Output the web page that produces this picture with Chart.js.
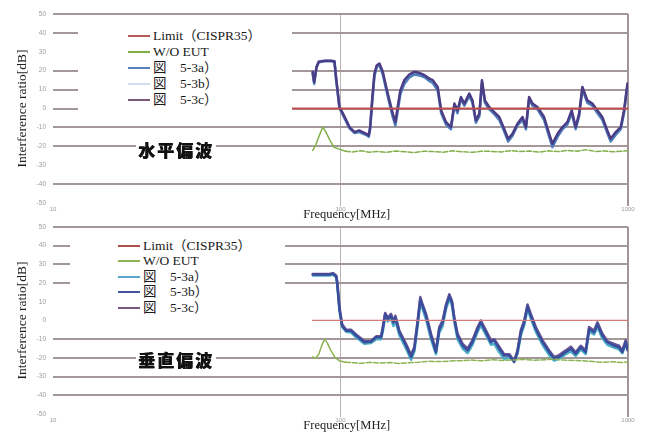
<!DOCTYPE html>
<html>
<head>
<meta charset="utf-8">
<script src="https://cdn.jsdelivr.net/npm/chart.js@4/dist/chart.umd.min.js"></script>
<style>
  html, body { margin: 0; padding: 0; background: #fff; }
  #wrap { position: relative; width: 646px; height: 432px; overflow: hidden; }
  canvas { position: absolute; left: 0; }
  #chartH { top: 0; }
  #chartV { top: 216px; }
  .legend { position: absolute; background: #fff; font-family: "Liberation Serif", "Noto Sans CJK JP", serif; font-size: 13.5px; color: #1a1a1a; }
  .legend .row { position: absolute; height: 16px; line-height: 16px; white-space: nowrap; }
  .legend .sw { position: absolute; top: 7px; width: 22px; height: 2px; }
  .pol { position: absolute; background: #fff; font-family: "Noto Sans CJK JP", sans-serif; font-weight: 900; font-size: 17px; line-height: 20px; letter-spacing: 2px; padding: 0 2px; color: #111; text-shadow: 0.6px 0 0 #111; }
</style>
</head>
<body>
<div id="wrap">
  <canvas id="chartH" width="646" height="222"></canvas>
  <canvas id="chartV" width="646" height="216"></canvas>
  <div class="legend" id="legH" style="left:78px;top:20px;width:214px;height:100px;"></div>
  <div class="legend" id="legV" style="left:70px;top:232px;width:215px;height:86px;"></div>
  <div class="pol" style="left:136px;top:140px;">水平偏波</div>
  <div class="pol" style="left:136px;top:350px;">垂直偏波</div>
</div>
<script>
// Axis ticks
const xTicks = [10, 100, 1000];
const yTicks = [50, 40, 30, 20, 10, 0, -10, -20, -30, -40, -50];

// Series names
const seriesNames = ['Limit（CISPR35）', 'W/O EUT', '図　5-3a）', '図　5-3b）', '図　5-3c）'];

// ---- Horizontal polarization (upper chart) ----
const hLimitFreq = [66, 1000];
const hLimit = [0, 0];

const hGreenFreq = [80, 82, 84, 86.8, 89, 92, 95, 99, 104, 110,
  118, 126, 135, 145, 156, 168, 180, 195, 210, 228,
  246, 266, 288, 310, 335, 362, 390, 420, 455, 490,
  530, 570, 615, 665, 715, 770, 830, 895, 960, 1000];
const hGreen = [-22.2, -19.5, -15, -9.8, -12.5, -17, -20.5, -21.5, -22.6, -23,
  -22.4, -23.1, -22.7, -23.2, -22.5, -22.9, -23.3, -22.6, -22.8, -23.1,
  -22.4, -22.9, -23.2, -22.6, -22.7, -23, -22.3, -22.8, -22.5, -23.1,
  -22.4, -22.8, -22.2, -22.6, -21.8, -22.7, -22.5, -22.9, -22.6, -22.3];

const hFreq = [80, 81, 82.5, 84, 88, 93, 95.3, 96.6, 99.2, 102,
  107.5, 112, 116, 123, 125.4, 126.8, 128.8, 131.2, 133.7, 136.6,
  140.3, 144.2, 148, 152, 155.2, 158.1, 161.5, 166.7, 173.8, 180.7,
  188, 196, 203.7, 209.4, 217.8, 224, 232.8, 242.2, 248.9, 255.3,
  262.4, 269.6, 280.5, 287.7, 295.8, 304.1, 310.5, 317.9, 328.9, 342.7,
  356.5, 370.8, 382.9, 396.3, 412.6, 429.5, 441.6, 453, 465.4, 484.2,
  510.5, 532, 545.8, 568.9, 591.6, 615.2, 637, 657.7, 676.1, 694,
  722.1, 751.6, 782.9, 814, 847.3, 870.4, 906.3, 943.6, 968.6, 995.4];
const hA = [18.5, 13, 21.5, 24.5, 25, 25, 24.5, 15, 0, -3.5,
  -10.5, -13, -12.5, -14, -15, -11, 2.5, 17, 22, 23,
  18, 10, 2.5, -4.5, -9, -1.5, 7.5, 13, 16.5, 18,
  17.5, 16.5, 14.5, 13.5, 9.5, -2.5, -8.5, -11, 1.5, -2.5,
  5, 1.5, 6.5, 3, -7.5, -4, 13.5, 3, -0.5, -3,
  -6, -12, -17.5, -14.5, -9, -6, -11, 5, 1.5, -0.5,
  -6, -15, -20.5, -15, -11, -8.5, -2.5, -11, -4, 10,
  3, 1.5, -2.5, -6, -13, -17.5, -14, -11, -2.5, 12];
const hB = [19, 13.5, 22, 25, 25.5, 25.5, 25, 15.5, 0.5, -3,
  -10, -12.5, -12, -13.5, -14.5, -10, 3.5, 18, 22.5, 23.5,
  19, 11, 3.5, -3.5, -8, 0, 9, 14.5, 17.5, 19,
  18.5, 17, 15, 14.5, 10.5, -1.5, -7.5, -10.5, 2, -1.5,
  5.5, 2, 7.5, 3.5, -7, -3, 14.5, 3.5, 0, -2.5,
  -5, -11.5, -16.5, -14, -8.5, -5, -10.5, 5.5, 2, 0,
  -5, -14, -19.5, -14, -10.5, -7.5, -1.5, -10.5, -3, 11,
  3.5, 2, -1.5, -5, -12, -16.5, -13, -10.5, -1.5, 12.5];
const hC = [19.4, 14, 22, 24.7, 25.2, 25.2, 25, 16, 0.8, -2.7,
  -9.8, -12.5, -11.6, -13.4, -14.2, -9.8, 4.3, 18.5, 22.9, 23.8,
  19.4, 11.4, 4.3, -2.7, -7.2, 0.8, 9.6, 15, 18.1, 19.4,
  18.8, 17.6, 15.8, 15, 11.4, -1, -7.2, -9.8, 2.6, -1,
  6.1, 2.6, 7.9, 4.3, -6.3, -2.7, 15, 4.3, 0.8, -1.9,
  -4.5, -10.7, -16, -13.4, -8.1, -4.5, -9.8, 6.1, 2.6, 0.8,
  -4.5, -13.4, -18.7, -13.4, -9.8, -7.2, -1, -9.8, -2.7, 11.4,
  4.3, 2.6, -1, -4.5, -11.6, -16, -12.5, -9.8, -1, 13.2];

// ---- Vertical polarization (lower chart) ----
const vLimitFreq = [80, 1000];
const vLimit = [0, 0];

const vGreenFreq = [80, 82, 84, 86, 88, 90, 92.5, 96, 99, 104,
  110, 118, 127, 137, 148, 160, 173, 187, 203, 220,
  240, 262, 285, 310, 338, 368, 400, 435, 472, 512,
  555, 600, 650, 700, 755, 815, 880, 950, 1000];
const vGreen = [-19.5, -20.2, -18, -13.5, -10, -12, -16, -20, -21.5, -22.3,
  -22.6, -22.9, -22.4, -22.8, -22.5, -23, -22.6, -22.3, -21.8, -22,
  -21.7, -21.5, -21.2, -21.6, -21, -21.4, -21.1, -20.8, -21.3, -21,
  -20.7, -21.2, -21.4, -21.6, -22, -22.4, -22.1, -22.5, -22.2];

const vFreq = [80.1, 91.6, 94.1, 96.6, 97.4, 99.2, 101.3, 104.6, 108.9, 113.3,
  121.1, 127.8, 133, 138.4, 140.3, 143, 146, 149.9, 152.8, 155.2,
  160.3, 169, 176, 180.7, 185.5, 189.5, 193.1, 198.4, 206.4, 214.8,
  220.6, 226.6, 232.8, 239, 244.2, 248.9, 255.3, 265.9, 276.7, 287.7,
  299.9, 307.9, 316.2, 324.8, 333.6, 342.7, 356.5, 370.8, 386.3, 401.9,
  412.6, 424.1, 435.5, 447.3, 459.2, 477.9, 504.1, 532, 553.4, 576,
  607.6, 632.3, 657.7, 684.8, 712.8, 732.1, 762, 782.9, 814, 847.3,
  894.2, 930.8, 955.8, 981.5, 995.4];
const vA = [24, 24, 24.5, 23, 19, 5, -3.5, -6, -6.5, -9,
  -12.5, -12, -10, -10, -6, 2, -0.5, 1, -3, 0,
  -8, -15, -21, -16.5, -3, 9.5, 6, 0.5, -10, -18,
  -6.5, -3, 6, 11.5, 8, -1, -10, -15, -17.5, -13,
  -6, -2.5, -6, -9.5, -13, -12.5, -17, -20.5, -20, -21,
  -18, -8, -2.5, 6, 1, -6, -13, -18.5, -21.5, -20.5,
  -18, -16.5, -19, -15.5, -18, -6, -7.5, -3.5, -9.5, -13,
  -14.5, -15.5, -17.5, -13, -14];
const vB = [24.5, 24.5, 25, 23.5, 20.1, 6, -2.8, -5.5, -5.5, -8.1,
  -11.6, -11.3, -9, -9, -4.6, 3.3, 0.7, 2.5, -1.1, 1.6,
  -6.3, -13.4, -19.5, -15.1, -1.1, 11.3, 7.7, 2.5, -8.1, -16.9,
  -4.6, -1.1, 7.7, 13, 9.5, 0.7, -8.1, -13.4, -16, -11.6,
  -4.6, -1.1, -4.6, -8.1, -11.6, -10.7, -15.1, -18.7, -18.7, -22.2,
  -16.9, -6.3, -1.1, 7.7, 2.5, -4.6, -11.6, -16.9, -20.4, -19.5,
  -16.9, -15.1, -17.8, -14.3, -16.9, -4.6, -6.3, -2, -8.1, -11.6,
  -13.4, -14.3, -16.9, -11.6, -15.1];
const vC = [24.8, 24.8, 25.3, 24, 21, 7, -2, -5, -5, -7.5,
  -11, -11, -8.5, -8.5, -3.5, 4, 1.5, 3.5, -0.5, 2.5,
  -5.5, -12.5, -18.5, -14, 0, 12.5, 8.5, 3.5, -7, -16,
  -3.5, 0, 8.5, 14, 10.5, 1.5, -7, -12.5, -15, -10.5,
  -3.5, 0, -3.5, -7, -10.5, -10, -14, -18, -18, -21.5,
  -16, -5, 0, 8.5, 3.5, -3.5, -10.5, -16, -19.5, -18.5,
  -16, -14, -17, -13.5, -16, -3.5, -5.5, -1, -7, -11,
  -12.5, -13.5, -16, -10.5, -16];

// ---- helpers ----
const pts = (xs, ys) => xs.map((x, i) => ({ x: x, y: ys[i] }));
const GRID = '#a3979a';
const CLEAR = 'rgba(0,0,0,0)';

function series(label, xs, ys, color, width, order, extra) {
  return Object.assign({
    label: label, data: pts(xs, ys), borderColor: color, backgroundColor: color,
    borderWidth: width, order: order, fill: false, pointRadius: 0
  }, extra || {});
}

const greenDash = { segment: { borderDash: c => (c.p0.parsed.x >= 100 ? [5, 2] : undefined) } };

function buildChart(id, datasets, o) {
  return new Chart(document.getElementById(id), {
    type: 'line',
    data: { datasets: datasets },
    options: {
      responsive: false, animation: false, devicePixelRatio: 1,
      layout: { padding: { top: o.padTop, right: 18, bottom: 0, left: 0 } },
      plugins: { legend: { display: false }, tooltip: { enabled: false } },
      elements: { point: { radius: 0 }, line: { tension: 0, borderJoinStyle: 'round', borderCapStyle: 'round' } },
      scales: {
        x: {
          type: 'logarithmic', min: 10, max: 1000,
          afterBuildTicks: s => { s.ticks = xTicks.map(v => ({ value: v })); },
          afterFit: s => { s.height = o.xHeight; },
          ticks: { callback: v => String(v), autoSkip: false, maxRotation: 0, padding: 0,
                   font: { family: 'Liberation Sans', size: 6 }, color: '#999' },
          grid: {
            color: c => (c.tick && c.tick.value === 10 ? CLEAR : (c.tick && c.tick.value === 1000 ? '#a39595' : '#bdb3b3')),
            lineWidth: c => (c.tick && c.tick.value === 1000 ? 2 : 1),
            tickLength: 3
          },
          border: { display: false },
          // en spaces nudge the centred title slightly to the right
          title: { display: true, text: '\u2002\u2002Frequency[MHz]', color: '#222', padding: 0,
                   font: { family: 'Liberation Serif', size: 12.5, lineHeight: o.xTitleLH } }
        },
        y: {
          min: -50, max: 50,
          afterBuildTicks: s => { s.ticks = yTicks.map(v => ({ value: v })); },
          afterFit: s => { s.width = 53; },
          ticks: { padding: 7, font: { family: 'Liberation Sans', size: 6.5 }, color: '#9a9a9a' },
          grid: {
            color: c => (c.tick && o.hiddenGrid.includes(c.tick.value) ? CLEAR : GRID),
            lineWidth: 2, drawTicks: false
          },
          border: { display: false },
          title: { display: true, text: 'Interference ratio[dB]', color: '#222', padding: { top: 14, bottom: 0 },
                   font: { family: 'Liberation Serif', size: 13.5 } }
        }
      }
    }
  });
}

const chartH = buildChart('chartH', [
  series(seriesNames[0], hLimitFreq, hLimit, '#c0504d', 2, 0),
  series(seriesNames[1], hGreenFreq, hGreen, '#83b04a', 1.5, 1, greenDash),
  series(seriesNames[2], hFreq, hA, '#4f81bd', 2.5, 3),
  series(seriesNames[3], hFreq, hB, '#c6d4ea', 2.5, 4),
  series(seriesNames[4], hFreq, hC, '#4a3d86', 2.5, 2)
], { padTop: 14, xHeight: 19, xTitleLH: 1.2, hiddenGrid: [30, -30, -50] });

const chartV = buildChart('chartV', [
  series(seriesNames[0], vLimitFreq, vLimit, '#d47a78', 1.2, 0),
  series(seriesNames[1], vGreenFreq, vGreen, '#8cb452', 1.5, 1, greenDash),
  series(seriesNames[2], vFreq, vA, '#4bacc6', 2.5, 4),
  series(seriesNames[3], vFreq, vB, '#3a4c9c', 2.5, 2),
  series(seriesNames[4], vFreq, vC, '#6b5592', 2.5, 3)
], { padTop: 9, xHeight: 18, xTitleLH: 1.0, hiddenGrid: [10, 0, -50] });

// Legends built from each chart's datasets
function buildLegend(chart, boxId, rowCenters, swLeft, textLeft, legendColors) {
  const box = document.getElementById(boxId);
  chart.data.datasets.forEach((ds, i) => {
    const row = document.createElement('div');
    row.className = 'row';
    row.style.top = (rowCenters[i] - 8) + 'px';
    row.style.left = '0px';
    const sw = document.createElement('div');
    sw.className = 'sw';
    sw.style.left = swLeft + 'px';
    sw.style.background = legendColors[i] || ds.borderColor;
    const tx = document.createElement('span');
    tx.style.position = 'absolute';
    tx.style.left = textLeft + 'px';
    tx.textContent = ds.label;
    row.appendChild(sw);
    row.appendChild(tx);
    box.appendChild(row);
  });
}
buildLegend(chartH, 'legH', [16, 32, 48, 64, 80], 50, 75, ['#b85a58', '#7fae45', '#5283bb', '#d4def0', '#7a5a78']);
buildLegend(chartV, 'legV', [14, 29, 45, 60, 76], 48, 73, ['#b0504c', '#8cb452', '#5aa8cc', '#44549e', '#7a5a80']);
</script>
</body>
</html>
